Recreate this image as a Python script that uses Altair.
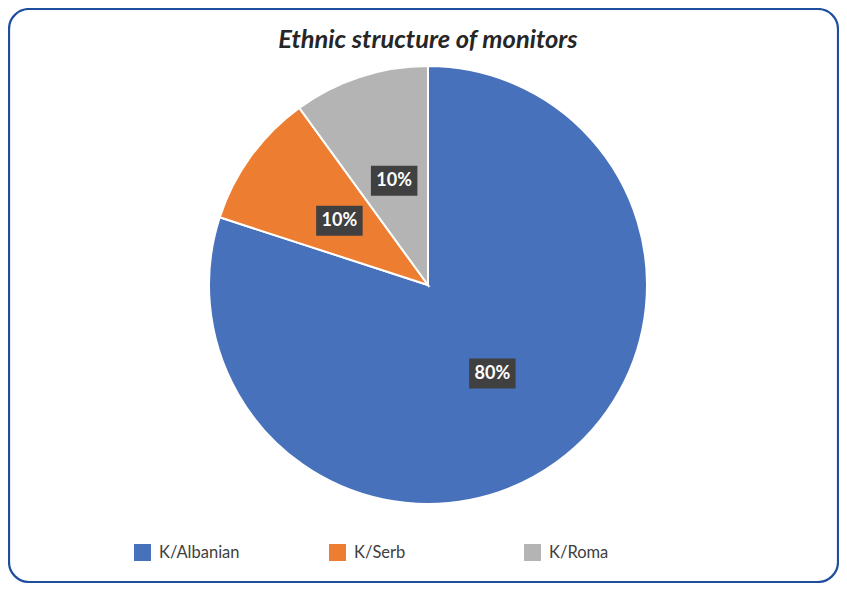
import math
import altair as alt
import pandas as pd

categories = ["K/Albanian", "K/Serb", "K/Roma"]
values = [80, 10, 10]
colors = ["#4771BA", "#ED7D31", "#B4B4B4"]
title_text = "Ethnic structure of monitors"

total = sum(values)
rows = []
cum = 0
for i, (c, v) in enumerate(zip(categories, values)):
    mid = (cum + v / 2) / total * 2 * math.pi
    cum += v
    rows.append({
        "cat": c, "val": v, "order": i,
        "label": f"{round(v / total * 100)}%",
        "lx": 0.5 * math.sin(mid), "ly": 0.5 * math.cos(mid),
    })
df = pd.DataFrame(rows)

R = 438
xs = alt.Scale(domain=[-1, 1])
ys = alt.Scale(domain=[-1, 1])

frame = alt.Chart(alt.Data(values=[{"a": 1}])).mark_rect(
    fill="white", stroke="#1F4E9E", strokeWidth=2.2, cornerRadius=20
).encode(
    x=alt.value(-200), x2=alt.value(629), y=alt.value(-57), y2=alt.value(516)
)

pie = alt.Chart(df).mark_arc(stroke="white", strokeWidth=2).encode(
    theta=alt.Theta("val:Q", stack=True),
    order=alt.Order("order:Q"),
    color=alt.Color(
        "cat:N",
        scale=alt.Scale(domain=categories, range=colors),
        sort=categories,
        legend=alt.Legend(
            title=None, orient="none", legendX=-75, legendY=478,
            direction="horizontal", columns=3, gridAlign="all",
            columnPadding=89, symbolType="square", symbolSize=289,
            symbolStrokeWidth=0, labelFont="Lato", labelFontSize=16.5,
            labelColor="#404040", labelOffset=8, padding=0,
        ),
    ),
)

boxes = alt.Chart(df).mark_point(
    shape="M-1.55,-1H1.55V1H-1.55Z", filled=True, opacity=1,
    color="#404040", size=900, strokeWidth=0
).encode(
    x=alt.X("lx:Q", scale=xs, axis=None),
    y=alt.Y("ly:Q", scale=ys, axis=None),
)

labels = alt.Chart(df).mark_text(
    font="Lato", fontSize=18, fontWeight="bold", color="white", baseline="middle"
).encode(
    x=alt.X("lx:Q", scale=xs, axis=None),
    y=alt.Y("ly:Q", scale=ys, axis=None),
    text="label:N",
)

chart = alt.layer(frame, pie, boxes, labels).properties(
    width=R, height=R,
    padding={"left": 201, "top": 58, "right": 192, "bottom": 79},
    autosize="none",
    title=alt.TitleParams(
        title_text, font="Lato", fontSize=25.5, fontWeight="bold",
        fontStyle="italic", color="#262626", anchor="middle", offset=-46,
    ),
).configure_view(stroke=None)

chart.save("out.html", embed_options={"renderer": "svg", "actions": False})
